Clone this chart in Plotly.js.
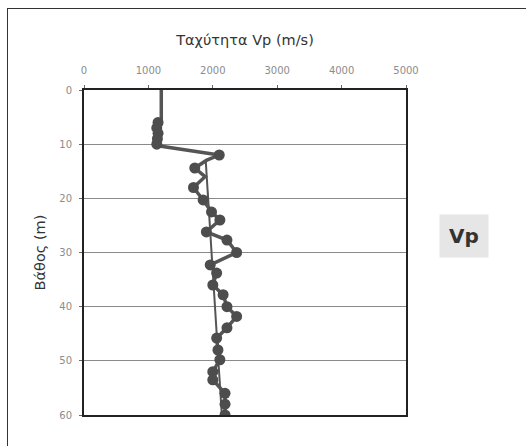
<!DOCTYPE html>
<html><head><meta charset="utf-8">
<script src="https://cdn.plot.ly/plotly-3.0.1.min.js"></script>
<style>
html,body{margin:0;padding:0;background:#fff;}
#frame{position:absolute;left:7px;top:8px;width:540px;height:460px;border:1.5px solid #333;}
#chart{position:absolute;left:0;top:0;width:526px;height:446px;}
</style></head>
<body>
<div id="frame"></div>
<div id="chart"></div>
<script>
// Depth (m) and P-wave velocity Vp (m/s)
const depth = [0, 5.5, 6, 7, 8, 9, 10, 10.4, 12, 13, 14.4, 16, 18, 20.3, 22.5, 24, 26.2, 27.7, 30, 32.3, 33.8, 36, 37.8, 40, 41.8, 43.9, 45.8, 48, 49.8, 52, 53.5, 56, 58, 60];
const vp    = [1200, 1200, 1150, 1130, 1150, 1140, 1130, 1200, 2100, 1900, 1720, 1880, 1700, 1850, 1980, 2110, 1900, 2220, 2370, 1960, 2060, 2000, 2160, 2220, 2370, 2220, 2060, 2080, 2110, 2000, 2000, 2190, 2190, 2190];
const markerShown = [false, false, true, true, true, true, true, false, true, false, true, false, true, true, true, true, true, true, true, true, true, true, true, true, true, true, true, true, true, true, true, true, true, true];
// thin trend line through the profile
const trendDepth = [13, 60];
const trendVp = [1890, 2140];
const xTicks = [0, 1000, 2000, 3000, 4000, 5000];
const yTicks = [0, 10, 20, 30, 40, 50, 60];

const traces = [
  {x: trendVp, y: trendDepth, mode: 'lines', line: {color: '#555', width: 2}, showlegend: false, hoverinfo: 'skip'},
  {x: vp, y: depth, mode: 'lines+markers', name: 'Vp',
   line: {color: '#555', width: 3.5},
   marker: {color: '#4d4d4d', opacity: 1, line: {width: 0}, size: markerShown.map(s => s ? 11 : 0)},
   showlegend: false}
];

const layout = {
  width: 526, height: 446,
  margin: {l: 84, r: 120, t: 90, b: 31},
  paper_bgcolor: 'rgba(0,0,0,0)', plot_bgcolor: '#fff',
  font: {family: 'DejaVu Sans, sans-serif', color: '#333'},
  xaxis: {
    side: 'top', range: [0, 5000], tickvals: xTicks, ticktext: xTicks.map(String),
    showgrid: false, zeroline: false,
    showline: true, linecolor: '#222', linewidth: 2, mirror: true,
    ticks: 'outside', ticklen: 3, tickcolor: '#666', ticklabelstandoff: 7,
    tickfont: {size: 10, color: '#8c8c8c'},
    title: {text: 'Ταχύτητα Vp (m/s)', font: {size: 14.5, color: '#333'}, standoff: 16}
  },
  yaxis: {
    range: [60, 0], tickvals: yTicks, ticktext: yTicks.map(String),
    showgrid: true, gridcolor: '#8a8a8a', gridwidth: 1, zeroline: false,
    showline: true, linecolor: '#222', linewidth: 2, mirror: true,
    ticks: 'outside', ticklen: 3, tickcolor: '#666', ticklabelstandoff: 5,
    tickfont: {size: 10, color: '#8c8c8c'},
    title: {text: 'Βάθος (m)', font: {size: 14.5, color: '#333'}, standoff: 10}
  },
  annotations: [
    {xref: 'paper', yref: 'paper', x: 1.18, y: 0.55, xanchor: 'center', yanchor: 'middle',
     text: '<b>Vp</b>', showarrow: false, font: {size: 20, color: '#333', family: 'DejaVu Sans, sans-serif'},
     bgcolor: '#e6e6e6', borderpad: 9}
  ]
};
Plotly.newPlot('chart', traces, layout, {displayModeBar: false, staticPlot: true});
</script>
</body></html>
